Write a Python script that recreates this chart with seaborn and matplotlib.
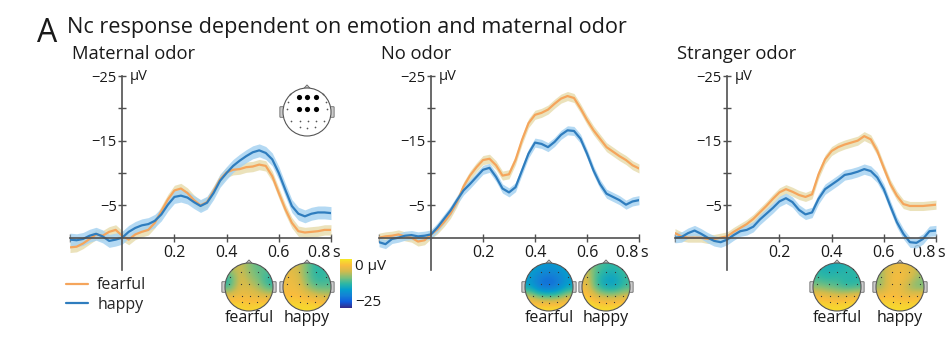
import numpy as np
import pandas as pd
import matplotlib
matplotlib.use("Agg")
import matplotlib.pyplot as plt
import seaborn as sns
from matplotlib.colors import LinearSegmentedColormap, Normalize
from matplotlib.patches import Circle, Polygon, FancyBboxPatch
from matplotlib.lines import Line2D
from matplotlib.transforms import ScaledTranslation
import matplotlib.cm as cm

# ---------------- data ----------------
time_s = np.round(np.linspace(-0.2, 0.8, 41), 3)

maternal_fearful = [1.5, 1.4, 0.9, 0.2, -0.5, -0.3, -0.9, -1.2, -0.3, 0.3, -0.5, -0.9, -1.2,
                    -2.3, -4.1, -5.9, -7.3, -7.6, -6.9, -5.8, -5.0, -5.5, -7.2, -9.0, -10.1,
                    -10.5, -10.6, -10.9, -11.0, -11.3, -11.1, -9.5, -6.9, -4.4, -2.3, -1.0,
                    -0.8, -0.9, -1.0, -1.2, -1.2]
maternal_happy = [0.3, 0.4, 0.2, -0.3, -0.6, -0.2, 0.5, 0.3, 0.0, -0.9, -1.5, -1.9, -2.1,
                  -2.6, -3.6, -5.1, -6.3, -6.5, -6.2, -5.5, -4.9, -5.4, -6.9, -8.8, -10.0,
                  -11.1, -11.9, -12.6, -13.2, -13.5, -13.1, -12.1, -10.0, -7.4, -4.9, -3.7,
                  -3.3, -3.7, -3.9, -3.9, -3.8]
noodor_fearful = [0.0, -0.2, -0.3, -0.5, -0.2, 0.0, 0.6, 0.4, -0.5, -1.3, -2.4, -3.7, -5.5,
                  -7.9, -9.6, -10.9, -12.0, -12.2, -11.2, -9.6, -9.8, -12.0, -15.1, -17.7,
                  -19.0, -19.3, -19.8, -20.7, -21.5, -21.9, -21.6, -20.0, -18.2, -16.6,
                  -15.3, -14.0, -13.3, -12.6, -12.0, -11.2, -10.7]
noodor_happy = [0.7, 1.0, 0.2, 0.0, -0.3, -0.4, -0.2, -0.3, -0.5, -1.6, -2.9, -4.2, -5.8,
                -7.3, -8.3, -9.4, -10.5, -10.8, -9.4, -7.6, -7.0, -7.8, -10.4, -13.0, -14.7,
                -14.5, -14.0, -14.8, -15.9, -16.6, -16.5, -15.3, -13.0, -10.4, -8.3, -6.8,
                -6.3, -5.8, -5.1, -5.6, -5.8]
stranger_fearful = [-0.7, -0.2, 0.0, 0.0, 0.0, 0.2, 0.2, 0.0, -0.2, -0.9, -1.5, -2.1, -2.9,
                    -3.9, -4.9, -6.0, -7.0, -7.5, -7.1, -6.6, -6.3, -6.7, -9.8, -12.1, -13.4,
                    -14.0, -14.4, -14.7, -15.0, -15.7, -15.2, -13.4, -10.8, -8.3, -6.5, -5.2,
                    -4.9, -4.9, -4.9, -5.0, -5.1]
stranger_happy = [0.0, -0.1, -0.7, -1.1, -0.6, 0.0, 0.5, 0.7, 0.3, -0.4, -1.0, -1.2, -1.7,
                  -2.8, -3.7, -4.6, -5.6, -6.1, -5.5, -4.3, -3.6, -3.9, -6.0, -7.5, -8.2,
                  -8.9, -9.7, -9.9, -10.2, -10.6, -10.3, -9.3, -7.5, -4.9, -2.4, -0.6, 0.7,
                  0.8, 0.2, -1.0, -1.1]

# standard error half-widths of shaded bands (µV)
sem_fearful = [0.8, 0.7, 0.7]
sem_happy = [1.0, 0.7, 0.8]

panel_titles = ["Maternal odor", "No odor", "Stranger odor"]
emotions = ["fearful", "happy"]
ytick_values = [-25, -20, -15, -10, -5]
ytick_labels = ["\u221225", "", "\u221215", "", "\u22125"]
xtick_values = [-0.2, 0.2, 0.4, 0.6, 0.8]
xtick_labels = ["", "0.2", "0.4", "0.6", "0.8\u2009s"]

# topography grids (µV), rows from front (nose) to back
topo_maternal_fearful = [[-7, -6, -9, -11, -10], [-13, -5, -8, -10, -13], [-12, -5, -6, -8, -12],
                         [-4, -4, -4, -5, -5], [-1, -1, -2, -1, -1]]
topo_maternal_happy = [[-5, -6, -10, -13, -12], [-4, -5, -10, -13, -12], [-4, -4, -8, -11, -11],
                       [-3, -3, -4, -5, -6], [-1, -1, -1, -1, -2]]
topo_noodor_fearful = [[-15, -16, -17, -16, -15], [-16, -19, -20, -19, -16], [-15, -20, -21, -19, -15],
                       [-6, -10, -11, -10, -6], [-1, -1, -1, -1, -1]]
topo_noodor_happy = [[-7, -11, -12, -13, -11], [-5, -12, -15, -15, -12], [-4, -12, -15, -15, -12],
                     [-2, -5, -7, -7, -5], [0, -1, -1, -1, -1]]
topo_stranger_fearful = [[-13, -14, -14, -13, -12], [-12, -13, -12, -13, -13], [-9, -10, -11, -13, -12],
                         [-3, -4, -5, -4, -3], [-1, -1, -1, -1, -1]]
topo_stranger_happy = [[-8, -5, -4, -5, -7], [-9, -4, -3, -5, -9], [-9, -4, -4, -9, -10],
                       [-3, -3, -4, -4, -3], [-1, -1, -1, -1, -1]]

# electrode layout (unit head coordinates)
roi_x = [-0.35, 0.0, 0.37, -0.35, 0.0, 0.37]
roi_y = [0.63, 0.63, 0.63, 0.13, 0.13, 0.13]
other_x = [-0.69, 0.66, -0.80, 0.80, -0.83, 0.84, -0.66, -0.31, 0.03, 0.38, 0.70, -0.31, 0.0, 0.34]
other_y = [0.73, 0.73, 0.41, 0.41, 0.13, 0.13, -0.38, -0.38, -0.38, -0.38, -0.38, -0.62, -0.66, -0.62]

# ---------------- style ----------------
sns.set_theme(style="ticks")
plt.rcParams["font.family"] = ["Open Sans", "DejaVu Sans"]
plt.rcParams["axes.unicode_minus"] = True

ORANGE = "#F5A55C"
BLUE = "#2F7DBE"
ORANGE_BAND = "#E8DDB0"
BLUE_BAND = "#A7D3F1"
AXC = "#505050"
TXT = "#1a1a1a"

parula = LinearSegmentedColormap.from_list("parula", [
    (0.000, (0.208, 0.166, 0.529)),
    (0.125, (0.059, 0.360, 0.868)),
    (0.250, (0.078, 0.504, 0.839)),
    (0.375, (0.023, 0.620, 0.800)),
    (0.500, (0.180, 0.718, 0.643)),
    (0.625, (0.504, 0.749, 0.473)),
    (0.750, (0.824, 0.733, 0.300)),
    (0.875, (0.980, 0.740, 0.240)),
    (1.000, (0.960, 0.910, 0.150)),
])

W, H = 947, 350
fig = plt.figure(figsize=(W / 100, H / 100), dpi=100)

series = [(maternal_fearful, maternal_happy), (noodor_fearful, noodor_happy),
          (stranger_fearful, stranger_happy)]
rows = []
for p, (fv, hv) in enumerate(series):
    for emo, vals in zip(emotions, (fv, hv)):
        for t, v in zip(time_s, vals):
            rows.append({"panel": p, "emotion": emo, "time": t, "uv": v})
df = pd.DataFrame(rows)

panel_left_px = [70, 379, 675]
panel_width_px = [261, 260, 261]
top_px, bottom_px = 76, 270

for p in range(3):
    ax = fig.add_axes([panel_left_px[p] / W, 1 - bottom_px / H,
                       panel_width_px[p] / W, (bottom_px - top_px) / H])
    sub = df[df.panel == p]
    for emo, col, sems in (("fearful", ORANGE_BAND, sem_fearful), ("happy", BLUE_BAND, sem_happy)):
        s = sub[sub.emotion == emo]
        ax.fill_between(s.time, s.uv - sems[p], s.uv + sems[p], color=col, alpha=0.85, lw=0)
    sns.lineplot(data=sub, x="time", y="uv", hue="emotion", hue_order=emotions,
                 palette={"fearful": ORANGE, "happy": BLUE}, linewidth=1.6,
                 errorbar=None, legend=False, ax=ax)
    ax.set_xlim(-0.2, 0.8)
    ax.set_ylim(5, -25)
    ax.set_xlabel("")
    ax.set_ylabel("")
    ax.spines["left"].set_position(("data", 0))
    ax.spines["bottom"].set_position(("data", 0))
    ax.spines["top"].set_visible(False)
    ax.spines["right"].set_visible(False)
    for sp in ("left", "bottom"):
        ax.spines[sp].set_color(AXC)
        ax.spines[sp].set_linewidth(1.2)
    ax.set_yticks(ytick_values)
    ax.set_yticklabels(ytick_labels)
    ax.set_xticks(xtick_values)
    ax.set_xticklabels(xtick_labels)
    ax.tick_params(axis="both", direction="inout", length=6, width=1.0, color=AXC,
                   labelcolor=TXT)
    ax.tick_params(axis="y", labelsize=10.5, pad=1)
    ax.tick_params(axis="x", labelsize=11.5, pad=2)
    last = ax.xaxis.get_major_ticks()[-1].label1
    last.set_transform(last.get_transform() + ScaledTranslation(-5 / 72, 0, fig.dpi_scale_trans))
    ax.patch.set_visible(False)
    ax.text(0.028, -25, "\u00b5V", fontsize=10.5, va="center", ha="left", color=TXT)
    fig.text((panel_left_px[p] + 2) / W, 1 - 59 / H, panel_titles[p], fontsize=13.2,
             va="baseline", ha="left", color=TXT)

fig.text(37 / W, 1 - 42 / H, "A", fontsize=23, va="baseline", ha="left", color=TXT)
fig.text(67 / W, 1 - 33 / H, "Nc response dependent on emotion and maternal odor",
         fontsize=15.6, va="baseline", ha="left", color=TXT)


def draw_head(cx, cy, grid=None, r_px=24, show_roi=False):
    size = 2.6 * r_px
    hx = fig.add_axes([(cx - size / 2) / W, 1 - (cy + size / 2) / H, size / W, size / H])
    hx.axis("off")
    for x0 in (-1.11, 0.97):
        hx.add_patch(FancyBboxPatch((x0, -0.2), 0.14, 0.4, boxstyle="round,pad=0.02",
                                    fc="#cccccc", ec="#666666", lw=0.6, zorder=1))
    hx.add_patch(Polygon([(-0.13, 0.985), (0.0, 1.13), (0.13, 0.985)], closed=True,
                         fc="#cccccc", ec="#666666", lw=0.6, zorder=1))
    hx.add_patch(Circle((0, 0), 1, fc="white", ec="none", zorder=2))
    if grid is not None:
        im = hx.imshow(np.array(grid, dtype=float), extent=(-1, 1, -1, 1), origin="upper",
                       cmap=parula, vmin=-25, vmax=0, interpolation="bicubic", zorder=3)
        im.set_clip_path(Circle((0, 0), 1, transform=hx.transData))
    hx.add_patch(Circle((0, 0), 1, fc="none", ec="#555555", lw=0.8, zorder=5))
    if show_roi:
        hx.scatter(roi_x, roi_y, s=14, c="black", zorder=6, lw=0)
        hx.scatter(other_x, other_y, s=1.5, c="#555555", zorder=6, lw=0)
    else:
        hx.scatter(roi_x + other_x, roi_y + other_y, s=0.8, c="#333333", zorder=6, lw=0)
    hx.set_xlim(-1.3, 1.3)
    hx.set_ylim(-1.3, 1.3)
    return hx


draw_head(307, 112, None, show_roi=True)

topo_grids = [(topo_maternal_fearful, topo_maternal_happy),
              (topo_noodor_fearful, topo_noodor_happy),
              (topo_stranger_fearful, topo_stranger_happy)]
head_centers = [(249, 307), (549, 606), (837, 900)]
for (gf, gh), (c1, c2) in zip(topo_grids, head_centers):
    draw_head(c1, 287, gf)
    draw_head(c2, 287, gh)
    fig.text(c1 / W, 1 - 318 / H, "fearful", fontsize=11.5, ha="center", va="center", color=TXT)
    fig.text(c2 / W, 1 - 318 / H, "happy", fontsize=11.5, ha="center", va="center", color=TXT)

cax = fig.add_axes([340 / W, 1 - 308 / H, 12 / W, 49 / H])
cb = fig.colorbar(cm.ScalarMappable(norm=Normalize(-25, 0), cmap=parula), cax=cax)
cb.set_ticks([])
cb.outline.set_visible(False)
fig.text(355 / W, 1 - 266 / H, "0 \u00b5V", fontsize=11, ha="left", va="center", color=TXT)
fig.text(355 / W, 1 - 302 / H, "\u221225", fontsize=11, ha="left", va="center", color=TXT)

handles = [Line2D([], [], color=ORANGE, lw=1.6), Line2D([], [], color=BLUE, lw=1.6)]
fig.legend(handles, emotions, loc="center left", bbox_to_anchor=(66 / W, 1 - 295 / H),
           frameon=False, fontsize=11.5, handlelength=1.4, handletextpad=0.55,
           labelspacing=0.2, borderpad=0, borderaxespad=0)

fig.savefig("out.png", dpi=100)
